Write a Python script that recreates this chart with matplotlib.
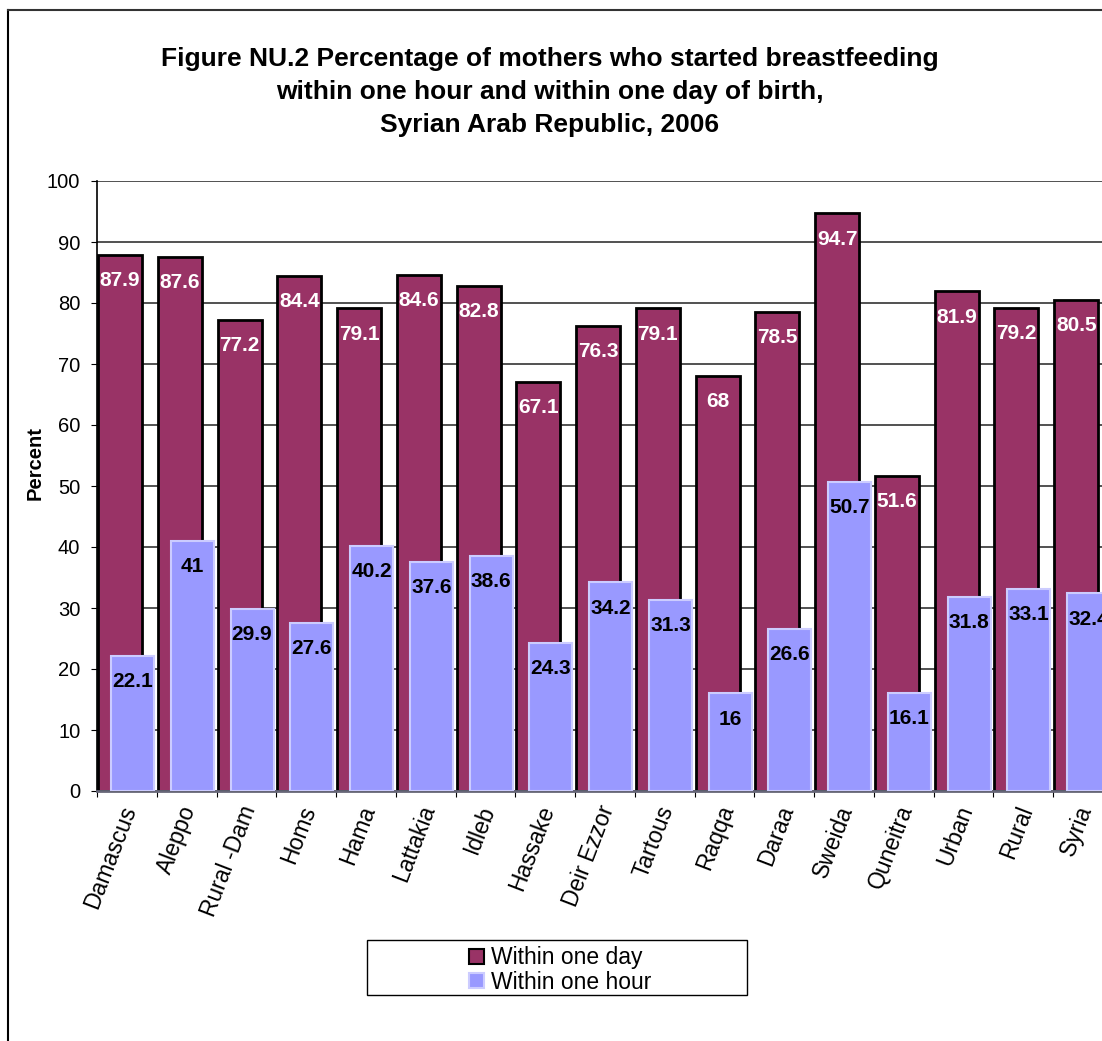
import numpy as np
import matplotlib.pyplot as plt
from matplotlib.patches import Rectangle, Patch
from matplotlib.lines import Line2D

plt.rcParams['font.family'] = ['Liberation Sans', 'DejaVu Sans']

# ---- data ----
regions = ["Damascus", "Aleppo", "Rural -Dam", "Homs", "Hama", "Lattakia", "Idleb",
           "Hassake", "Deir Ezzor", "Tartous", "Raqqa", "Daraa", "Sweida", "Quneitra",
           "Urban", "Rural", "Syria"]
within_day = [87.9, 87.6, 77.2, 84.4, 79.1, 84.6, 82.8, 67.1, 76.3, 79.1, 68, 78.5,
              94.7, 51.6, 81.9, 79.2, 80.5]
within_hour = [22.1, 41, 29.9, 27.6, 40.2, 37.6, 38.6, 24.3, 34.2, 31.3, 16, 26.6,
               50.7, 16.1, 31.8, 33.1, 32.4]

maroon = "#993366"
lilac = "#9999ff"

W, H = 1102, 1041
fig = plt.figure(figsize=(W / 100, H / 100), dpi=100)

# chart border (right part is cut off in the original)
fig.add_artist(Line2D([8 / W, 8 / W], [0, 1 - 10 / H], transform=fig.transFigure,
                      color="black", lw=1.5))
fig.add_artist(Line2D([8 / W, 1], [1 - 10 / H, 1 - 10 / H], transform=fig.transFigure,
                      color="#333333", lw=1.5))

# plot area runs past the right edge of the image
AXW = 1016
ax = fig.add_axes([97 / W, 250 / H, AXW / W, 610 / H])

x = np.arange(len(regions))
d_off, h_off = -0.115, 0.094
ax.bar(x + d_off, within_day, width=0.736, color=maroon, edgecolor="black",
       linewidth=2, zorder=2)
ax.bar(x + h_off, within_hour, width=0.72, color=lilac, edgecolor="#ccccff",
       linewidth=1.5, zorder=3)

for xi, v in zip(x, within_day):
    ax.annotate(f"{v:g}", xy=(xi + d_off, v), xytext=(0, -18.5), textcoords="offset points",
                ha="center", va="center", fontsize=15, fontweight="bold", color="white",
                zorder=5)
for xi, v in zip(x, within_hour):
    ax.annotate(f"{v:g}", xy=(xi + h_off, v), xytext=(0, -18.5), textcoords="offset points",
                ha="center", va="center", fontsize=15, fontweight="bold", color="black",
                zorder=5)

ax.set_xlim(-0.5, len(regions) - 0.5)
ax.set_ylim(0, 100)
ax.set_yticks(np.arange(0, 101, 10))
ax.yaxis.grid(True, color="#333333", lw=1.2)
ax.set_axisbelow(True)
ax.tick_params(axis="y", labelsize=14.5, length=4, direction="out", pad=8)

# ticks at category boundaries, labels at centres
ax.set_xticks(np.arange(-0.5, len(regions), 1))
ax.set_xticklabels([])
ax.tick_params(axis="x", which="major", length=4, direction="out")
ax.set_xticks(x + 0.05, regions, minor=True)
ax.tick_params(axis="x", which="minor", length=0, pad=11, labelsize=16.5)
for lab in ax.get_xticklabels(minor=True):
    lab.set_rotation(69)
    lab.set_ha("right")
    lab.set_va("center")
    lab.set_rotation_mode("anchor")

for s in ["top", "right"]:
    ax.spines[s].set_visible(False)
ax.spines["left"].set_linewidth(1.2)
ax.spines["bottom"].set_color("#666677")
ax.spines["bottom"].set_linewidth(2)

ax.set_ylabel("Percent", fontsize=14.5, fontweight="bold")
ax.yaxis.set_label_coords(-52 / AXW, (791 - 463) / 610)

fig.text(550 / W, 1 - 92 / H,
         "Figure NU.2 Percentage of mothers who started breastfeeding\n"
         "within one hour and within one day of birth,\n"
         "Syrian Arab Republic, 2006",
         ha="center", va="center", fontsize=19, fontweight="bold", linespacing=1.45)

# legend
fig.add_artist(Rectangle((367 / W, 1 - 995 / H), 380 / W, 55 / H, transform=fig.transFigure,
                         facecolor="white", edgecolor="black", lw=1))
handles = [Patch(facecolor=maroon, edgecolor="black", lw=1.5),
           Patch(facecolor=lilac, edgecolor="#ccccff", lw=1.5)]
fig.legend(handles, ["Within one day", "Within one hour"], loc="center",
           bbox_to_anchor=(560 / W, 1 - 970 / H), frameon=False, fontsize=16.5,
           handlelength=0.65, handleheight=0.65, handletextpad=0.3, labelspacing=0.05,
           borderpad=0)

fig.savefig("out.png", dpi=100)
